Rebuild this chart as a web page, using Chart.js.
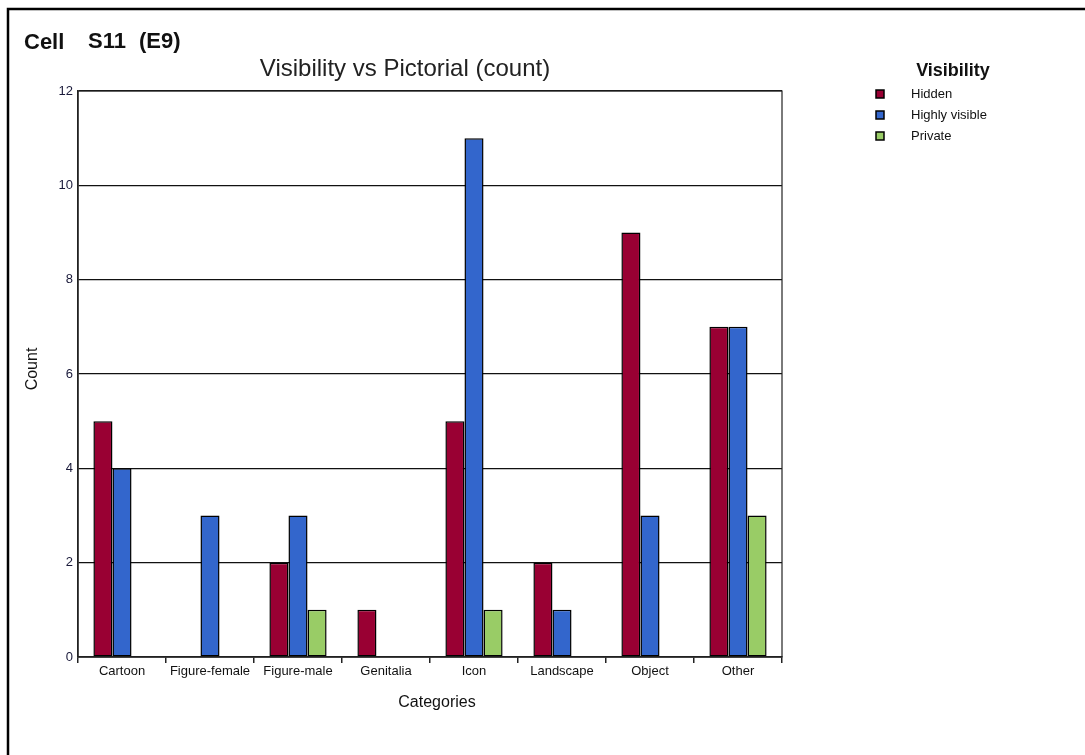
<!DOCTYPE html>
<html>
<head>
<meta charset="utf-8">
<script src="https://cdn.jsdelivr.net/npm/chart.js@4"></script>
<style>
  body { margin: 0; background: #fff; }
  canvas { display: block; }
</style>
</head>
<body>
<canvas id="chart" width="1085" height="755"></canvas>
<script>
const categories = ["Cartoon", "Figure-female", "Figure-male", "Genitalia", "Icon", "Landscape", "Object", "Other"];
const hidden = [5, 0, 2, 1, 5, 2, 9, 7];
const highlyVisible = [4, 3, 3, 0, 11, 1, 3, 7];
const privateCounts = [0, 0, 1, 0, 1, 0, 0, 3];
const yTicks = [0, 2, 4, 6, 8, 10, 12];

const FONT = "'Liberation Sans', Arial, sans-serif";

// zero counts are left empty so no outline is drawn on the baseline
const noZero = (arr) => arr.map((v) => (v === 0 ? null : v));

// page frame, headings, axis titles, plot border and the legend
const decorations = {
  id: "decorations",
  afterDraw(chart) {
    const ctx = chart.ctx;
    const a = chart.chartArea;
    ctx.save();

    ctx.strokeStyle = "#000";
    ctx.lineWidth = 2.5;
    ctx.beginPath();
    ctx.moveTo(8, 755);
    ctx.lineTo(8, 9);
    ctx.lineTo(1085, 9);
    ctx.stroke();

    ctx.lineWidth = 1.2;
    ctx.strokeStyle = "#222";
    ctx.strokeRect(a.left, a.top, a.right - a.left, a.bottom - a.top);

    ctx.fillStyle = "#111";
    ctx.textBaseline = "middle";
    ctx.textAlign = "left";
    ctx.font = "bold 22px " + FONT;
    ctx.fillText("Cell", 24, 43);
    ctx.fillText("S11", 88, 42);
    ctx.fillText("(E9)", 139, 42);

    ctx.textAlign = "center";
    ctx.fillStyle = "#222";
    ctx.font = "24px " + FONT;
    ctx.fillText("Visibility vs Pictorial (count)", 405, 69);

    ctx.fillStyle = "#111";
    ctx.font = "16px " + FONT;
    ctx.fillText("Categories", 437, 703);

    ctx.save();
    ctx.translate(33, 369);
    ctx.rotate(-Math.PI / 2);
    ctx.fillText("Count", 0, 0);
    ctx.restore();

    ctx.font = "bold 18px " + FONT;
    ctx.fillText("Visibility", 953, 71);
    ctx.textAlign = "left";
    ctx.font = "13px " + FONT;
    chart.data.datasets.forEach((ds, i) => {
      const y = 94 + i * 21;
      ctx.fillStyle = ds.backgroundColor;
      ctx.fillRect(876, y - 4, 8, 8);
      ctx.lineWidth = 1.5;
      ctx.strokeStyle = "#000";
      ctx.strokeRect(876, y - 4, 8, 8);
      ctx.fillStyle = "#111";
      ctx.fillText(ds.label, 911, y);
    });

    ctx.restore();
  },
};

const ctx = document.getElementById("chart").getContext("2d");
new Chart(ctx, {
  type: "bar",
  data: {
    labels: categories,
    datasets: [
      { label: "Hidden", data: noZero(hidden), backgroundColor: "#990033" },
      { label: "Highly visible", data: noZero(highlyVisible), backgroundColor: "#3366CC" },
      { label: "Private", data: noZero(privateCounts), backgroundColor: "#99CC66" },
    ].map((ds) => ({
      ...ds,
      borderColor: "#000",
      borderWidth: 1.5,
      borderSkipped: false,
      categoryPercentage: 0.65,
      barPercentage: 1,
    })),
  },
  options: {
    responsive: false,
    animation: false,
    layout: { padding: { left: 0, right: 303, top: 91, bottom: 0 } },
    plugins: {
      legend: { display: false },
      title: { display: false },
      tooltip: { enabled: false },
    },
    scales: {
      x: {
        afterFit: (scale) => { scale.height = 98; },
        grid: {
          offset: true,
          drawOnChartArea: false,
          drawTicks: true,
          tickLength: 6,
          color: "#222",
          lineWidth: 1.5,
        },
        border: { color: "#222", width: 1.5 },
        ticks: {
          color: "#111",
          font: { family: FONT, size: 13 },
          padding: 1,
          maxRotation: 0,
          autoSkip: false,
        },
      },
      y: {
        min: 0,
        max: 12,
        afterFit: (scale) => { scale.width = 78; },
        afterBuildTicks: (scale) => {
          scale.ticks = yTicks.map((v) => ({ value: v }));
        },
        grid: {
          color: "#111",
          lineWidth: 1.2,
          drawTicks: false,
        },
        border: { color: "#222", width: 1.5 },
        ticks: {
          color: "#1a1a3a",
          font: { family: FONT, size: 13 },
          padding: 5,
        },
      },
    },
  },
  plugins: [decorations],
});
</script>
</body>
</html>
